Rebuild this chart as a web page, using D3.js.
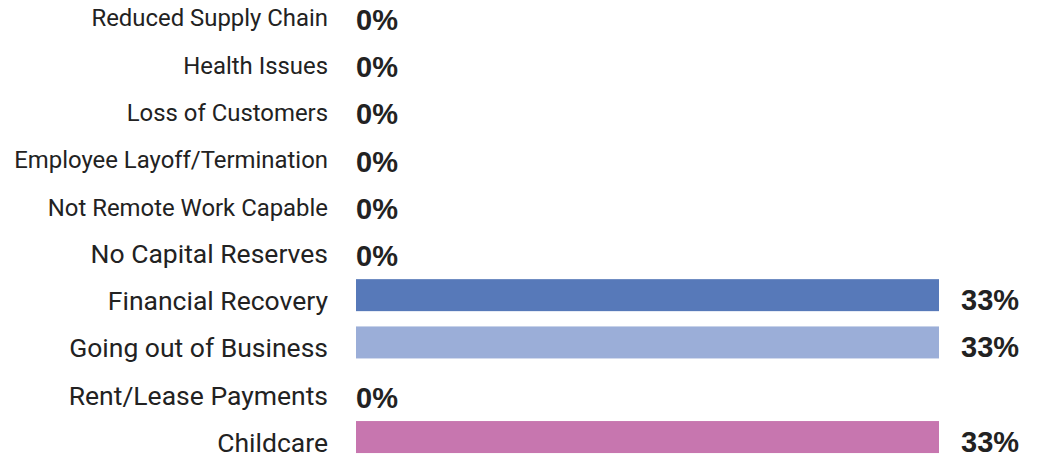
<!DOCTYPE html>
<html>
<head>
<meta charset="utf-8">
<script src="https://cdn.jsdelivr.net/npm/d3@7"></script>
<style>
  html, body { margin: 0; padding: 0; background: #ffffff; }
  svg { display: block; }
</style>
</head>
<body>
<svg id="chart" width="1041" height="457"></svg>
<script>
const categories = [
  "Reduced Supply Chain",
  "Health Issues",
  "Loss of Customers",
  "Employee Layoff/Termination",
  "Not Remote Work Capable",
  "No Capital Reserves",
  "Financial Recovery",
  "Going out of Business",
  "Rent/Lease Payments",
  "Childcare"
];
const values = [0, 0, 0, 0, 0, 0, 33, 33, 0, 33];
const valueLabels = ["0%", "0%", "0%", "0%", "0%", "0%", "33%", "33%", "0%", "33%"];
const barColors = ["#5779b9", "#5779b9", "#5779b9", "#5779b9", "#5779b9", "#5779b9", "#5779b9", "#9baed8", "#c776af", "#c776af"];

const svg = d3.select("#chart");

const x = d3.scaleLinear().domain([0, 33]).range([356, 939]);
const y = d3.scaleBand()
  .domain(categories)
  .range([-12.3, 460.7])
  .paddingInner(0.3235)
  .paddingOuter(0.3235 / 2);

const rows = categories.map((c, i) => ({ c, v: values[i], lab: valueLabels[i], col: barColors[i], i }));

// bars
svg.append("g").selectAll("rect")
  .data(rows.filter(d => d.v > 0))
  .join("rect")
  .attr("x", x(0))
  .attr("y", d => y(d.c))
  .attr("width", d => x(d.v) - x(0))
  .attr("height", y.bandwidth())
  .attr("fill", d => d.col);

// category labels
svg.append("g").selectAll("text")
  .data(rows)
  .join("text")
  .attr("x", 328)
  .attr("y", d => y(d.c) + y.bandwidth() / 2 + 15)
  .attr("text-anchor", "end")
  .attr("font-family", "Roboto, sans-serif")
  .attr("font-size", d => d.i < 5 ? 23.9 : 26.5)
  .attr("fill", "#222222")
  .text(d => d.c);

// value labels
svg.append("g").selectAll("text")
  .data(rows)
  .join("text")
  .attr("x", d => x(d.v) + (d.v > 0 ? 22 : 0))
  .attr("y", d => y(d.c) + y.bandwidth() / 2 + (d.v > 0 ? 15 : 18.5))
  .attr("text-anchor", "start")
  .attr("font-family", "'Liberation Sans', Arial, sans-serif")
  .attr("font-weight", "bold")
  .attr("font-size", 29)
  .attr("fill", "#222222")
  .text(d => d.lab);
</script>
</body>
</html>
